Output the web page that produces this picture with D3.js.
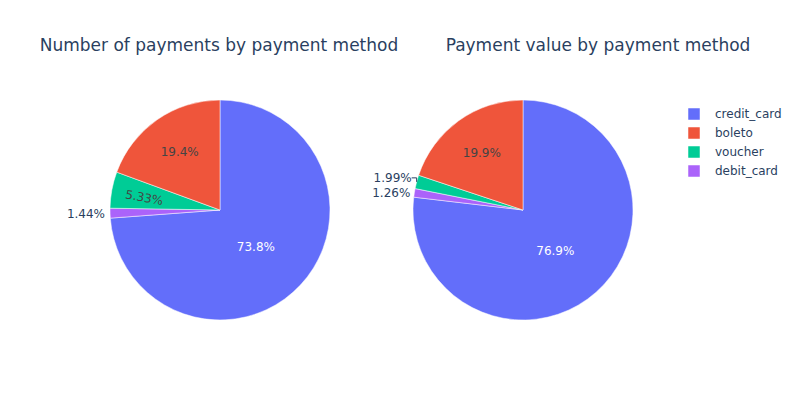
<!DOCTYPE html>
<html>
<head>
<meta charset="utf-8">
<script src="https://cdn.jsdelivr.net/npm/d3@7"></script>
<style>
  body { margin: 0; background: #fff; }
  svg { display: block; font-family: "DejaVu Sans", Verdana, sans-serif; }
</style>
</head>
<body>
<svg id="chart" width="800" height="400"></svg>
<script>
// Categories in legend order
const categories = ["credit_card", "boleto", "voucher", "debit_card"];
const colors = ["#636efa", "#EF553B", "#00cc96", "#ab63fa"];
// Shares (%)
const countShares = [73.8, 19.4, 5.33, 1.44];
const valueShares = [76.9, 19.9, 1.99, 1.26];
const titles = ["Number of payments by payment method", "Payment value by payment method"];
// Drawing order (clockwise from 12 o'clock)
const drawOrder = ["credit_card", "debit_card", "voucher", "boleto"];

const svg = d3.select("#chart");
const color = d3.scaleOrdinal().domain(categories).range(colors);

const pies = [
  { shares: countShares, cx: 220, cy: 210, titleX: 219 },
  { shares: valueShares, cx: 523, cy: 210, titleX: 598 }
];
const R = 110;

const pieGen = d3.pie().sort(null).value(d => d.v);
const arcGen = d3.arc().innerRadius(0).outerRadius(R);

function fmt(v) { return v + "%"; }

pies.forEach((p, i) => {
  svg.append("text")
    .attr("x", p.titleX).attr("y", 51)
    .attr("text-anchor", "middle")
    .attr("font-size", 17)
    .attr("fill", "#2a3f5f")
    .text(titles[i]);

  const data = drawOrder.map(c => ({ c, v: p.shares[categories.indexOf(c)] }));
  const arcs = pieGen(data);
  const g = svg.append("g").attr("transform", `translate(${p.cx},${p.cy})`);

  g.selectAll("path").data(arcs).enter().append("path")
    .attr("d", arcGen)
    .attr("fill", d => color(d.data.c))
    .attr("stroke", "#fff").attr("stroke-width", 0.5);

  arcs.forEach(a => {
    const mid = (a.startAngle + a.endAngle) / 2;
    const dx = Math.sin(mid), dy = -Math.cos(mid);
    const v = a.data.v;
    if (v >= 15) {
      const isCredit = a.data.c === "credit_card";
      const rr = isCredit ? 0.47 * R : 0.64 * R;
      g.append("text")
        .attr("x", dx * rr - (isCredit ? 2 : 0)).attr("y", dy * rr + (isCredit ? 2 : 0))
        .attr("dy", "0.35em")
        .attr("text-anchor", "middle")
        .attr("font-size", 12)
        .attr("fill", isCredit ? "#fff" : "#444")
        .text(fmt(v));
    } else if (v >= 4) {
      const rr = 0.72 * R;
      const ang = Math.atan2(dy, dx) * 180 / Math.PI + 180; // along the radius
      g.append("text")
        .attr("transform", `translate(${dx * rr + 2},${dy * rr + 2}) rotate(${ang})`)
        .attr("dy", "0.35em")
        .attr("text-anchor", "middle")
        .attr("font-size", 12)
        .attr("fill", "#444")
        .text(fmt(v));
    }
  });

  // Outside labels for small slices
  const small = arcs.filter(a => a.data.v < 4);
  if (i === 0) {
    const a = small[0];
    g.append("text")
      .attr("x", -115).attr("y", 4)
      .attr("dy", "0.35em")
      .attr("text-anchor", "end")
      .attr("font-size", 12).attr("fill", "#2a3f5f")
      .text(fmt(a.data.v));
  } else {
    small.forEach(a => {
      const mid = (a.startAngle + a.endAngle) / 2;
      const x = Math.sin(mid) * R, y = -Math.cos(mid) * R;
      if (a.data.c === "debit_card") {
        g.append("text")
          .attr("x", x - 4).attr("y", y)
          .attr("dy", "0.35em")
          .attr("text-anchor", "end")
          .attr("font-size", 12).attr("fill", "#2a3f5f")
          .text(fmt(a.data.v));
      } else {
        const ty = y - 4;
        g.append("path")
          .attr("d", `M${x - 5},${ty} L${x},${ty} L${x},${y}`)
          .attr("fill", "none").attr("stroke", "#2a3f5f").attr("stroke-width", 1);
        g.append("text")
          .attr("x", x - 5).attr("y", ty)
          .attr("dy", "0.35em")
          .attr("text-anchor", "end")
          .attr("font-size", 12).attr("fill", "#2a3f5f")
          .text(fmt(a.data.v));
      }
    });
  }
});

// Legend
const legend = svg.append("g").attr("transform", "translate(688,114)");
categories.forEach((c, i) => {
  const row = legend.append("g").attr("transform", `translate(0,${i * 19})`);
  row.append("rect").attr("x", 0).attr("y", -6).attr("width", 12).attr("height", 12)
    .attr("fill", color(c)).attr("stroke", "#fff").attr("stroke-width", 0.5);
  row.append("text").attr("x", 27).attr("y", 0).attr("dy", "0.35em")
    .attr("font-size", 12).attr("fill", "#2a3f5f").text(c);
});
</script>
</body>
</html>
